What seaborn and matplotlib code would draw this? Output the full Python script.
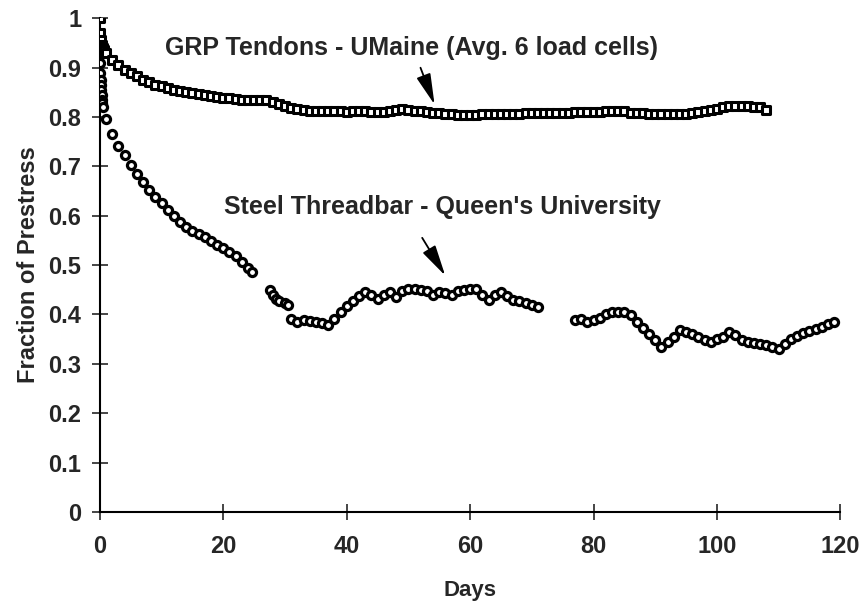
import numpy as np
import pandas as pd
import matplotlib
matplotlib.use("Agg")
import matplotlib.pyplot as plt
import seaborn as sns

# GRP tendons (UMaine, avg. of 6 load cells)
grp_days = [0, 0.1, 0.2, 0.3, 0.5, 0.7, 1,
            2, 3, 4, 5, 6, 7, 8, 9, 10, 11, 12, 13, 14, 15, 16, 17, 18, 19, 20,
            21, 22, 23, 24, 25, 26, 27, 28, 29, 30, 31, 32, 33, 34, 35, 36, 37, 38, 39, 40,
            41, 42, 43, 44, 45, 46, 47, 48, 49, 50, 51, 52, 53, 54, 55, 56, 57, 58, 59, 60,
            61, 62, 63, 64, 65, 66, 67, 68, 69, 70, 71, 72, 73, 74, 75, 76, 77, 78, 79, 80,
            81, 82, 83, 84, 85, 86, 87, 88, 89, 90, 91, 92, 93, 94, 95, 96, 97, 98, 99, 100,
            101, 102, 103, 104, 105, 106, 107, 108]
grp_frac = [1.0, 0.97, 0.955, 0.945, 0.94, 0.935, 0.93,
            0.915, 0.905, 0.895, 0.89, 0.882, 0.875, 0.87, 0.865, 0.862, 0.858, 0.855, 0.853, 0.851, 0.849, 0.847, 0.845, 0.843, 0.841, 0.839,
            0.838, 0.836, 0.835, 0.835, 0.834, 0.835, 0.834, 0.831, 0.826, 0.822, 0.819, 0.816, 0.814, 0.813, 0.813, 0.812, 0.812, 0.812, 0.812, 0.811,
            0.812, 0.812, 0.812, 0.811, 0.81, 0.81, 0.812, 0.815, 0.816, 0.815, 0.813, 0.812, 0.81, 0.809, 0.808, 0.807, 0.806, 0.804, 0.803, 0.804,
            0.805, 0.806, 0.806, 0.806, 0.807, 0.807, 0.807, 0.807, 0.808, 0.808, 0.808, 0.808, 0.809, 0.809, 0.809, 0.809, 0.81, 0.81, 0.81, 0.81,
            0.811, 0.812, 0.813, 0.813, 0.812, 0.808, 0.808, 0.808, 0.806, 0.806, 0.806, 0.806, 0.806, 0.806, 0.806, 0.808, 0.81, 0.812, 0.815, 0.817,
            0.82, 0.822, 0.823, 0.822, 0.822, 0.821, 0.82, 0.815]

# Steel threadbar (Queen's University)
steel_days = [0, 0.05, 0.1, 0.15, 0.2, 0.25, 0.3, 0.35, 0.4, 0.5,
              1, 2, 3, 4, 5, 6, 7, 8, 9, 10, 11, 12, 13, 14, 15, 16, 17, 18, 19, 20,
              21, 22, 23, 24, 24.6,
              27.5, 28, 28.5, 29, 30, 30.5,
              31, 32, 33, 34, 35, 36, 37, 38, 39, 40, 41, 42, 43, 44, 45, 46, 47, 48, 49, 50,
              51, 52, 53, 54, 55, 56, 57, 58, 59, 60, 61, 62, 63, 64, 65, 66, 67, 68, 69, 70, 71,
              77, 78, 79, 80, 81, 82, 83, 84, 85, 86, 87, 88, 89, 90, 91, 92, 93, 94, 95, 96,
              97, 98, 99, 100, 101, 102, 103, 104, 105, 106, 107, 108, 109, 110, 111, 112,
              113, 114, 115, 116, 117, 118, 119]
steel_frac = [0.93, 0.91, 0.89, 0.875, 0.865, 0.855, 0.845, 0.835, 0.828, 0.82,
              0.795, 0.765, 0.742, 0.722, 0.703, 0.685, 0.668, 0.652, 0.638, 0.625, 0.612, 0.6, 0.588, 0.578, 0.57, 0.563, 0.556, 0.548, 0.541, 0.535,
              0.527, 0.518, 0.506, 0.495, 0.487,
              0.45, 0.44, 0.432, 0.428, 0.424, 0.42,
              0.39, 0.385, 0.388, 0.386, 0.384, 0.382, 0.378, 0.39, 0.405, 0.418, 0.428, 0.437, 0.445, 0.44, 0.432, 0.44, 0.445, 0.435, 0.448, 0.452,
              0.452, 0.45, 0.448, 0.44, 0.445, 0.443, 0.44, 0.447, 0.45, 0.452, 0.452, 0.44, 0.43, 0.44, 0.445, 0.438, 0.43, 0.428, 0.424, 0.42, 0.415,
              0.388, 0.39, 0.385, 0.388, 0.392, 0.4, 0.405, 0.405, 0.405, 0.398, 0.385, 0.372, 0.36, 0.348, 0.335, 0.345, 0.355, 0.368, 0.365, 0.36,
              0.355, 0.348, 0.345, 0.35, 0.355, 0.365, 0.358, 0.348, 0.345, 0.343, 0.34, 0.338, 0.335, 0.33, 0.34, 0.35,
              0.357, 0.362, 0.366, 0.37, 0.375, 0.38, 0.385]

grp = pd.DataFrame({"Days": grp_days, "Fraction": grp_frac})
steel = pd.DataFrame({"Days": steel_days, "Fraction": steel_frac})

sns.set_style("ticks")
plt.rcParams["font.family"] = ["Liberation Sans", "DejaVu Sans"]
plt.rcParams["font.weight"] = "bold"

fig = plt.figure(figsize=(8.61, 6.08), dpi=100)
ax = fig.add_axes([0.116, 0.158, 0.86, 0.812])

sns.scatterplot(data=steel, x="Days", y="Fraction", marker="o", s=34,
                facecolor="white", edgecolor="black", linewidth=2.3, ax=ax, zorder=3)
sns.scatterplot(data=grp, x="Days", y="Fraction", marker="s", s=40,
                facecolor="white", edgecolor="black", linewidth=2.2, ax=ax, zorder=4)

ax.set_xlim(0, 120)
ax.set_ylim(0, 1)
ax.set_xticks(np.arange(0, 121, 20))
ax.set_yticks(np.round(np.arange(0, 1.01, 0.1), 1))
ax.set_yticklabels(["0", "0.1", "0.2", "0.3", "0.4", "0.5", "0.6", "0.7", "0.8", "0.9", "1"])
ax.tick_params(direction="inout", length=11, width=1.2, labelsize=17, pad=8)
ax.tick_params(axis="x", pad=11)
for lab in ax.get_xticklabels() + ax.get_yticklabels():
    lab.set_fontweight("bold")

ax.spines["right"].set_visible(False)
ax.spines["top"].set_visible(False)
ax.spines["left"].set_linewidth(1.5)
ax.spines["bottom"].set_linewidth(1.5)
ax.spines["left"].set_color("black")
ax.spines["bottom"].set_color("black")

ax.set_xlabel("Days", fontsize=16, fontweight="bold", labelpad=16)
ax.set_ylabel("Fraction of Prestress", fontsize=17, fontweight="bold", labelpad=6)

arrow = dict(arrowstyle="-|>,head_length=1.9,head_width=0.45", color="black", lw=1.3)
ax.text(50.5, 0.939, "GRP Tendons - UMaine (Avg. 6 load cells)", ha="center", va="center",
        fontsize=18, fontweight="bold")
ax.annotate("", xy=(54.4, 0.82), xytext=(51.8, 0.905), arrowprops=arrow)
ax.text(55.5, 0.617, "Steel Threadbar - Queen's University", ha="center", va="center",
        fontsize=18, fontweight="bold")
ax.annotate("", xy=(56.2, 0.474), xytext=(52.0, 0.56), arrowprops=arrow)

fig.savefig("out.png", dpi=100)
